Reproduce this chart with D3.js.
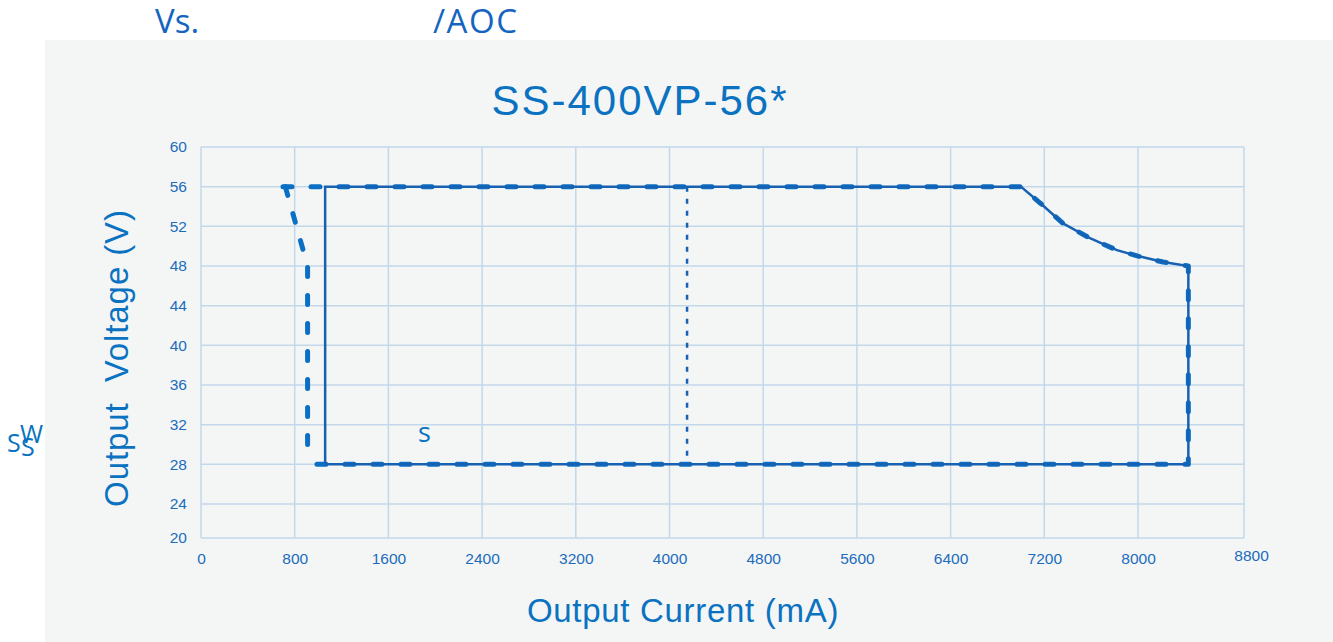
<!DOCTYPE html>
<html>
<head>
<meta charset="utf-8">
<script src="https://cdn.jsdelivr.net/npm/d3@7"></script>
<style>
  body { margin: 0; background: #fff; }
  text { font-family: "Liberation Sans", Arial, sans-serif; }
</style>
</head>
<body>
<div id="chart"></div>
<script>
// data
var xTicks = [0, 800, 1600, 2400, 3200, 4000, 4800, 5600, 6400, 7200, 8000, 8800];
var yTicks = [20, 24, 28, 32, 36, 40, 44, 48, 52, 56, 60];

// curve from the power limit knee down to max current
var knee = [[7000, 56], [7160, 54.4], [7360, 52.3], [7590, 50.8], [7820, 49.6], [8000, 49.0], [8190, 48.4], [8380, 48.0]];

// solid operating area
var solidArea = [[1060, 28], [1060, 56]].concat(knee, [[8380, 28], [1060, 28]]);
// dashed outline
var dashedMain = [[990, 28], [8380, 28], [8380, 48]].concat(knee.slice().reverse(), [[650, 56]]);
var dashedLeft = [[720, 56], [910, 48], [910, 29]];
// dotted marker
var dotted = [[4150, 56], [4150, 28]];

var svgWidth = 1333;
var svgHeight = 642;

var svg = d3.select("#chart")
  .append("svg")
  .attr("width", svgWidth)
  .attr("height", svgHeight);

// grey panel
svg.append("rect")
  .attr("x", 45)
  .attr("y", 40)
  .attr("width", svgWidth - 45)
  .attr("height", svgHeight - 40)
  .attr("fill", "#f4f6f6");

// the grid in the picture is not quite even, so piecewise scales
var x = d3.scaleLinear()
  .domain([0, 8000, 8800])
  .range([201, 1138, 1244]);

var y = d3.scaleLinear()
  .domain([20, 24, 60])
  .range([538, 504, 147]);

var blue = "#0a72c0";
var gridColor = "#c3d7ea";

// grid
svg.append("g")
  .selectAll("line")
  .data(xTicks)
  .enter()
  .append("line")
  .attr("x1", d => x(d))
  .attr("x2", d => x(d))
  .attr("y1", y(60))
  .attr("y2", y(20))
  .attr("stroke", gridColor)
  .attr("stroke-width", 1.5);

svg.append("g")
  .selectAll("line")
  .data(yTicks)
  .enter()
  .append("line")
  .attr("x1", x(0))
  .attr("x2", x(8800))
  .attr("y1", d => y(d))
  .attr("y2", d => y(d))
  .attr("stroke", gridColor)
  .attr("stroke-width", 1.5);

// axes (labels only)
var leftAxis = d3.axisLeft(y).tickValues(yTicks).tickSize(0).tickPadding(14).tickFormat(d3.format("d"));
var bottomAxis = d3.axisBottom(x).tickValues(xTicks).tickSize(0).tickPadding(15).tickFormat(d3.format("d"));

var gy = svg.append("g")
  .attr("transform", "translate(" + x(0) + ",0)")
  .call(leftAxis);
var gx = svg.append("g")
  .attr("transform", "translate(0," + y(20) + ")")
  .call(bottomAxis);

[gx, gy].forEach(function(g) {
  g.select(".domain").remove();
  g.selectAll("text")
    .attr("fill", "#1c6cbc")
    .style("font-size", "15.5px")
    .style("font-family", "\"Liberation Sans\", Arial, sans-serif");
});
gx.selectAll("text").filter(d => d === 8800).attr("dx", 7).attr("dy", "0.5em");

var line = d3.line()
  .x(d => x(d[0]))
  .y(d => y(d[1]));

// dashed outline
[dashedMain, dashedLeft].forEach(function(pts) {
  svg.append("path")
    .attr("d", line(pts))
    .attr("fill", "none")
    .attr("stroke", "#0b70c4")
    .attr("stroke-width", 5)
    .attr("stroke-linecap", "round")
    .attr("stroke-linejoin", "round")
    .attr("stroke-dasharray", "9 19");
});

// solid outline
svg.append("path")
  .attr("d", line(solidArea))
  .attr("fill", "none")
  .attr("stroke", "#1761b3")
  .attr("stroke-width", 2.5);

// dotted vertical
svg.append("path")
  .attr("d", line(dotted))
  .attr("fill", "none")
  .attr("stroke", "#1761b3")
  .attr("stroke-width", 2.5)
  .attr("stroke-dasharray", "5 7");

// titles
svg.append("text")
  .attr("x", 640)
  .attr("y", 115)
  .attr("text-anchor", "middle")
  .attr("fill", blue)
  .style("font-size", "42px")
  .style("letter-spacing", "2px")
  .text("SS-400VP-56*");

svg.append("text")
  .attr("transform", "rotate(-90)")
  .attr("x", -358)
  .attr("y", 128)
  .attr("text-anchor", "middle")
  .attr("fill", blue)
  .style("font-size", "33px")
  .style("letter-spacing", "0.9px")
  .style("white-space", "pre")
  .text("Output  Voltage (V)");

svg.append("text")
  .attr("x", 683)
  .attr("y", 622)
  .attr("text-anchor", "middle")
  .attr("fill", blue)
  .style("font-size", "33px")
  .style("letter-spacing", "0.7px")
  .text("Output Current (mA)");

// stray labels
svg.append("text")
  .attr("x", 418)
  .attr("y", 442)
  .attr("fill", blue)
  .style("font-size", "27px")
  .style("font-family", "\"Open Sans\", sans-serif")
  .text("s");

svg.append("text")
  .attr("x", 155)
  .attr("y", 33)
  .attr("fill", "#1565c0")
  .style("font-size", "33px")
  .style("font-family", "\"Open Sans\", sans-serif")
  .text("Vs.");

svg.append("text")
  .attr("x", 433)
  .attr("y", 33)
  .attr("fill", "#1565c0")
  .style("font-size", "33px")
  .style("letter-spacing", "1.5px")
  .style("font-family", "\"Open Sans\", sans-serif")
  .text("/AOC");

svg.append("text")
  .attr("x", 20)
  .attr("y", 443)
  .attr("fill", blue)
  .style("font-size", "25px")
  .style("font-family", "\"Open Sans\", sans-serif")
  .text("W");
svg.append("text")
  .attr("x", 7)
  .attr("y", 452)
  .attr("fill", blue)
  .style("font-size", "25px")
  .style("font-family", "\"Open Sans\", sans-serif")
  .text("S");
svg.append("text")
  .attr("x", 21)
  .attr("y", 456)
  .attr("fill", blue)
  .style("font-size", "25px")
  .style("font-family", "\"Open Sans\", sans-serif")
  .text("S");
</script>
</body>
</html>
